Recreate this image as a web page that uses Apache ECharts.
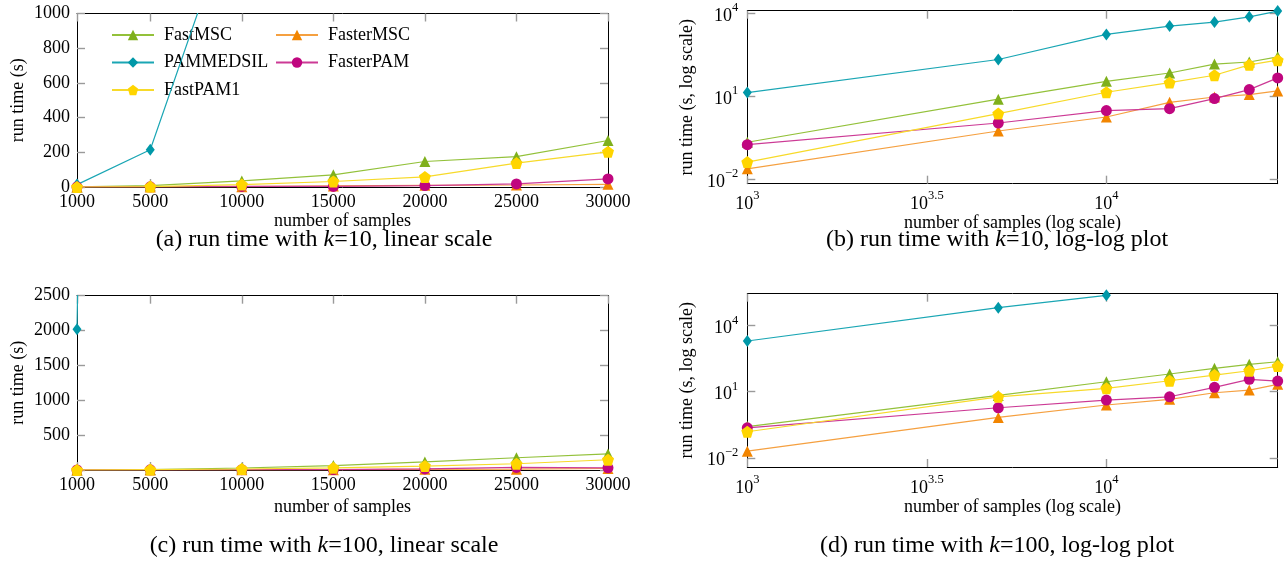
<!DOCTYPE html>
<html><head><meta charset="utf-8">
<script src="https://cdn.jsdelivr.net/npm/echarts@6/dist/echarts.min.js"></script>
<style>html,body{margin:0;padding:0;background:#fff}#c{width:1284px;height:562px}</style>
</head><body><div id="c"></div>
<script>
// ---------- data ----------
const samples = [1000, 5000, 10000, 15000, 20000, 25000, 30000];
const seriesNames = ['FastMSC', 'FasterMSC', 'PAMMEDSIL', 'FasterPAM', 'FastPAM1'];

// run time in seconds, k = 10
const fastMSC_k10   = [0.22, 7.9, 35, 70, 147, 175, 268];
const fasterMSC_k10 = [0.024, 0.56, 1.8, 6.1, 9.5, 11.6, 15.7];
const pammedsil_k10 = [13.7, 215, 1735, 3470, 4840, 7530, 12100];
const fasterPAM_k10 = [0.18, 1.09, 3.06, 3.6, 8.3, 17.6, 46.5];
const fastPAM1_k10  = [0.042, 2.38, 14.1, 31.6, 58, 138, 203];

// run time in seconds, k = 100
const fastMSC_k100   = [0.26, 6.8, 28.5, 64, 116, 176, 231];
const fasterMSC_k100 = [0.020, 0.68, 2.5, 4.5, 9.0, 11.9, 21.7];
const pammedsil_k100 = [2018, 65800, 240000, null, null, null, null];
const fasterPAM_k100 = [0.23, 1.87, 4.2, 5.9, 15.8, 36.6, 30.6];
const fastPAM1_k100  = [0.152, 5.9, 14.3, 31.6, 57, 90, 147];

// tick values
const linearXTicks = [1000, 5000, 10000, 15000, 20000, 25000, 30000];
const logXTicks = [1000, 3162.2776601683795, 10000];
const logYTicks = [0.01, 10, 10000];
const captions = [
  '(a) run time with {i|k}=10, linear scale',
  '(b) run time with {i|k}=10, log-log plot',
  '(c) run time with {i|k}=100, linear scale',
  '(d) run time with {i|k}=100, log-log plot'
];

// ---------- styling ----------
const FONT = "'Liberation Serif', 'DejaVu Serif', serif";
const pentagon = 'path://M0,-1 L0.951,-0.309 L0.588,0.809 L-0.588,0.809 L-0.951,-0.309 Z';
const look = {
  FastMSC:   {symbol: 'triangle', size: 11, color: '#7fb01c', line: '#93c13a'},
  FasterMSC: {symbol: 'triangle', size: 11, color: '#f28500', line: '#f5a040'},
  PAMMEDSIL: {symbol: 'diamond', size: [9, 12], color: '#0098a8', line: '#1aa6b4'},
  FasterPAM: {symbol: 'circle', size: 11, color: '#c0067f', line: '#cc3a95'},
  FastPAM1:  {symbol: pentagon, size: 12, color: '#ffd500', line: '#f7da2a'}
};

const gridData = [
  [fastMSC_k10, fasterMSC_k10, pammedsil_k10, fasterPAM_k10, fastPAM1_k10],
  [fastMSC_k10, fasterMSC_k10, pammedsil_k10, fasterPAM_k10, fastPAM1_k10],
  [fastMSC_k100, fasterMSC_k100, pammedsil_k100, fasterPAM_k100, fastPAM1_k100],
  [fastMSC_k100, fasterMSC_k100, pammedsil_k100, fasterPAM_k100, fastPAM1_k100]
];

const grids = [
  {left: 77, top: 13.5, width: 531, height: 173.5},
  {left: 747.3, top: 10.7, width: 530.4, height: 173},
  {left: 77, top: 295.7, width: 531, height: 174.3},
  {left: 747.3, top: 293.7, width: 530.4, height: 173.3}
].map(g => Object.assign({containLabel: false, outerBoundsMode: 'none', show: false}, g));

const tickColor = '#9a9a9a';
const labelBase = () => ({fontSize: 18, color: '#000', fontFamily: FONT});
const nameStyle = () => ({fontSize: 18, color: '#000', fontFamily: FONT});

function logLabel(v) {
  const e = Math.round(Math.log10(v) * 10) / 10;
  const s = (e < 0 ? '\u2212' : '') + Math.abs(e);
  return '{b|10}{s|' + s + '}';
}
const logRich = () => ({
  b: {fontSize: 18, fontFamily: FONT, color: '#000', lineHeight: 24, verticalAlign: 'bottom'},
  s: {fontSize: 12.5, fontFamily: FONT, color: '#000', lineHeight: 24, verticalAlign: 'top', padding: [0, 0, 8, 0]}
});
function tick(custom) {
  const t = {show: true, inside: true, length: 8, lineStyle: {color: tickColor, width: 1.4}};
  if (custom) t.customValues = custom;
  return t;
}

const xAxes = [], yAxes = [];
function addX(gi, isLog, nameGap) {
  ['bottom', 'top'].forEach(pos => {
    const bottom = pos === 'bottom';
    const ax = {
      gridIndex: gi, position: pos,
      axisLine: {show: true, onZero: false, lineStyle: {color: '#000', width: 1}},
      splitLine: {show: false},
      name: bottom ? (isLog ? 'number of samples (log scale)' : 'number of samples') : '',
      nameLocation: 'middle', nameGap: nameGap, nameTextStyle: nameStyle()
    };
    if (isLog) {
      Object.assign(ax, {type: 'log', logBase: 10, min: 999.999, max: 30000.01,
        axisTick: tick(logXTicks),
        axisLabel: {show: bottom, customValues: logXTicks, formatter: logLabel, rich: logRich(), margin: 6}});
    } else {
      Object.assign(ax, {type: 'value', min: 1000, max: 30000,
        axisTick: tick(linearXTicks),
        axisLabel: Object.assign({show: bottom, customValues: linearXTicks, margin: 6, formatter: v => String(v)}, labelBase())});
    }
    xAxes.push(ax);
  });
}
function addY(gi, cfg) {
  ['left', 'right'].forEach(pos => {
    const left = pos === 'left';
    const ax = {
      gridIndex: gi, position: pos,
      axisLine: {show: true, onZero: false, lineStyle: {color: '#000', width: 1}},
      splitLine: {show: false},
      name: left ? cfg.name : '',
      nameLocation: 'middle', nameGap: cfg.nameGap, nameTextStyle: nameStyle()
    };
    if (cfg.log) {
      Object.assign(ax, {type: 'log', logBase: 10, min: cfg.min, max: cfg.max,
        axisTick: tick(logYTicks),
        axisLabel: {show: left, customValues: logYTicks, formatter: logLabel, rich: logRich(), margin: 9}});
    } else {
      Object.assign(ax, {type: 'value', min: cfg.min, max: cfg.max, interval: cfg.interval,
        axisTick: tick(null),
        axisLabel: Object.assign({show: left, margin: 7, formatter: v => (v === 0 && cfg.hideZero) ? '' : String(v)}, labelBase())});
    }
    yAxes.push(ax);
  });
}

addX(0, false, 23); addY(0, {name: 'run time (s)', min: 0, max: 1000, interval: 200, nameGap: 50});
addX(1, true, 25);  addY(1, {name: 'run time (s, log scale)', log: true, min: Math.pow(10, -2.157), max: Math.pow(10, 4.097), nameGap: 51});
addX(2, false, 28); addY(2, {name: 'run time (s)', min: 0, max: 2500, interval: 500, hideZero: true, nameGap: 50});
addX(3, true, 29);  addY(3, {name: 'run time (s, log scale)', log: true, min: Math.pow(10, -2.42), max: Math.pow(10, 5.455), nameGap: 51});

const series = [];
gridData.forEach((arrs, gi) => {
  arrs.forEach((vals, si) => {
    const nm = seriesNames[si];
    const L = look[nm];
    series.push({
      type: 'line', name: nm,
      xAxisIndex: gi * 2, yAxisIndex: gi * 2,
      data: samples.map((x, i) => vals[i] == null ? [x, null] : [x, vals[i]]),
      symbol: L.symbol, symbolSize: L.size, showSymbol: true,
      lineStyle: {color: L.line, width: 1.2},
      itemStyle: {color: L.color},
      clip: true, z: 2 + si, connectNulls: false
    });
  });
});

const legendCommon = () => ({
  orient: 'vertical', top: 21, itemWidth: 42, itemHeight: 13, itemGap: 9.5,
  selectedMode: false,
  textStyle: {fontSize: 18, fontFamily: FONT, color: '#000', lineHeight: 18, padding: [0, 0, 0, 5]}
});

const graphics = captions.map((t, i) => ({
  type: 'text',
  x: (i % 2 === 0) ? 324 : 997,
  y: i < 2 ? 240 : 546,
  style: {
    text: t, fontSize: 24, fontFamily: FONT, fill: '#000',
    align: 'center', verticalAlign: 'middle',
    rich: {i: {fontStyle: 'italic', fontSize: 24, fontFamily: FONT, fill: '#000'}}
  }
}));

const chart = echarts.init(document.getElementById('c'), null, {renderer: 'canvas'});
chart.setOption({
  animation: false,
  backgroundColor: '#fff',
  grid: grids,
  xAxis: xAxes,
  yAxis: yAxes,
  legend: [
    Object.assign({left: 106, data: ['FastMSC', 'PAMMEDSIL', 'FastPAM1']}, legendCommon()),
    Object.assign({left: 270, data: ['FasterMSC', 'FasterPAM']}, legendCommon())
  ],
  series: series,
  graphic: graphics
});
</script>
</body></html>
